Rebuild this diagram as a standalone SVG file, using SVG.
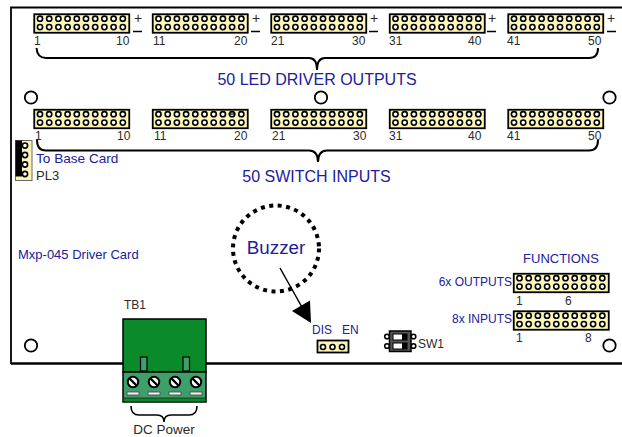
<svg xmlns="http://www.w3.org/2000/svg" xmlns:xlink="http://www.w3.org/1999/xlink" width="622" height="437" viewBox="0 0 622 437">
<style>
text{font-family:"Liberation Sans",Arial,sans-serif}
.b{fill:#20209a}.k{fill:#2a2a2a}
.s12{font-size:12px}.s13{font-size:13px}.s16{font-size:16px}
.line{fill:none;stroke:#000}
.hole{fill:#fff;stroke:#000;stroke-width:1.8}
.pin{fill:#fff;stroke:#000;stroke-width:1.6}
.scr{fill:#3f9f6a;stroke:#000;stroke-width:1.2}
</style>
<defs>
<g id="r"><circle class="pin" cx="6.5" cy="5.2" r="2.6"/><circle class="pin" cx="15.7" cy="5.2" r="2.6"/><circle class="pin" cx="24.9" cy="5.2" r="2.6"/><circle class="pin" cx="34.1" cy="5.2" r="2.6"/><circle class="pin" cx="43.3" cy="5.2" r="2.6"/><circle class="pin" cx="52.5" cy="5.2" r="2.6"/><circle class="pin" cx="61.7" cy="5.2" r="2.6"/><circle class="pin" cx="70.9" cy="5.2" r="2.6"/><circle class="pin" cx="80.1" cy="5.2" r="2.6"/><circle class="pin" cx="89.3" cy="5.2" r="2.6"/></g>
<g id="hdr">
<rect x="0.75" y="0.75" width="95" height="18.5" fill="#fdf5b5" stroke="#000" stroke-width="1.8"/>
<use xlink:href="#r" href="#r"/>
<use xlink:href="#r" href="#r" y="8.4"/>
</g>
</defs>
<g id="connectors" class="line">
<path d="M11 364V7.5H622" stroke-width="1.8"/>
<path d="M11 363.500H622" stroke-width="2.600"/>
<path d="M36.500 48C37 55 40 58 46 58H309C314 58 317 61 317 70C317 61 320 58 325 58H589C595 58 598 55 598 48" stroke-width="2"/>
<path d="M37 140C37 147 40 150.500 46 150.500H309C314 150.500 318 153 318 162C318 153 322 150.500 327 150.500H589C595 150.500 598 147 598 140" stroke-width="2"/>
<path d="M131 406C131 412 134 415 139 415H157C162 415 164 417 164 422C164 417 166 415 171 415H189C194 415 197 412 197 406" stroke-width="1.6"/>
<path d="M280 268L303 309" stroke-width="1.5"/>
<path d="M311 323L292 311L310 300.500Z" fill="#000" stroke="none"/>
</g>
<g id="headers-top">
<use xlink:href="#hdr" href="#hdr" x="33.500" y="13.500"/><use xlink:href="#hdr" href="#hdr" x="152" y="13.500"/><use xlink:href="#hdr" href="#hdr" x="270.500" y="13.500"/><use xlink:href="#hdr" href="#hdr" x="389" y="13.500"/><use xlink:href="#hdr" href="#hdr" x="507.500" y="13.500"/>
</g>
<g id="headers-mid">
<use xlink:href="#hdr" href="#hdr" x="33.500" y="109"/><use xlink:href="#hdr" href="#hdr" x="152" y="109"/><use xlink:href="#hdr" href="#hdr" x="270.500" y="109"/><use xlink:href="#hdr" href="#hdr" x="389" y="109"/><use xlink:href="#hdr" href="#hdr" x="507.500" y="109"/>
<path d="M228.500 114h7" stroke="#000" stroke-width="1.200"/>
</g>
<g id="headers-func">
<use xlink:href="#hdr" href="#hdr" x="513" y="273"/><use xlink:href="#hdr" href="#hdr" x="513" y="310.500"/>
</g>
<g id="holes"><circle class="hole" cx="31" cy="97.500" r="6.200"/><circle class="hole" cx="321" cy="97.500" r="6.200"/><circle class="hole" cx="609.500" cy="97.500" r="6.200"/><circle class="hole" cx="31" cy="345.500" r="6.200"/><circle class="hole" cx="609.500" cy="345.500" r="6.200"/></g>
<g id="top-labels" class="k s12">
<text x="34" y="45">1</text><text x="116" y="45">10</text><text x="153" y="45">11</text><text x="234" y="45">20</text><text x="271" y="45">21</text><text x="352" y="45">30</text><text x="389" y="45">31</text><text x="468" y="45">40</text><text x="507" y="45">41</text><text x="588" y="45">50</text>
<g style="font-size:14px"><text x="134" y="23">+</text><text x="252" y="23">+</text><text x="370" y="23">+</text><text x="488" y="23">+</text><text x="607" y="23">+</text></g>
<path d="M133 31.500h9M251 31.500h9M369 31.500h9M487 31.500h9M607 31.500h9" stroke="#000" stroke-width="1.300" fill="none"/>
<text x="35" y="140">1</text><text x="117" y="140">10</text><text x="154" y="140">11</text><text x="234" y="140">20</text><text x="272" y="140">21</text><text x="353" y="140">30</text><text x="389" y="140">31</text><text x="468" y="140">40</text><text x="507" y="140">41</text><text x="588" y="140">50</text>
</g>
<text class="b s16" x="317" y="85" text-anchor="middle">50 LED DRIVER OUTPUTS</text>
<text class="b s16" x="316.500" y="182" text-anchor="middle">50 SWITCH INPUTS</text>
<g id="PL3"><rect x="15.500" y="140.500" width="16.500" height="40" fill="#fdf5b5" stroke="#666" stroke-width="1"/><rect x="15.500" y="140.500" width="6.500" height="36" fill="#000"/><circle class="pin" cx="25" cy="145.600" r="2.600"/><circle class="pin" cx="25" cy="155" r="2.600"/><circle class="pin" cx="25" cy="164.500" r="2.600"/><circle class="pin" cx="25" cy="174" r="2.600"/></g>
<text class="b" style="font-size:13.600px" x="36" y="163">To Base Card</text>
<text class="k s13" x="36" y="180">PL3</text>
<text class="b s13" x="18" y="259">Mxp-045 Driver Card</text>
<g id="buzzer"><circle cx="276" cy="248.500" r="43" fill="none" stroke="#000" stroke-width="4" stroke-dasharray="4 4.500"/><text class="b" style="font-size:18.800px" x="276" y="254" text-anchor="middle">Buzzer</text></g>
<g id="dis-en"><text class="b s12" x="312" y="334">DIS</text><text class="b s12" x="342" y="334">EN</text><rect x="317.500" y="340.500" width="31" height="12" fill="#fdf5b5" stroke="#000" stroke-width="1.800"/><circle class="pin" cx="323" cy="347" r="2.500"/><circle class="pin" cx="332.500" cy="347" r="2.500"/><circle class="pin" cx="342" cy="347" r="2.500"/></g>
<g id="SW1"><rect x="389.500" y="331" width="21.500" height="20.500" fill="#555" stroke="#000" stroke-width="1.500"/><rect x="393" y="334" width="14" height="6" fill="#000" stroke="#000"/><rect x="393.500" y="334.500" width="8.500" height="5" fill="#fff"/><rect x="393" y="343" width="14" height="6" fill="#000" stroke="#000"/><rect x="393.500" y="343.500" width="8.500" height="5" fill="#fff"/><circle class="pin" cx="387" cy="336.500" r="2.300"/><circle class="pin" cx="387" cy="346" r="2.300"/><circle class="pin" cx="413.500" cy="336.500" r="2.300"/><circle class="pin" cx="413.500" cy="346" r="2.300"/><text class="k s12" x="418" y="348">SW1</text></g>
<g id="functions"><text class="b s13" x="561" y="263" text-anchor="middle">FUNCTIONS</text><text class="b s12" x="512" y="286" text-anchor="end">6x OUTPUTS</text><text class="b s12" x="512" y="323" text-anchor="end">8x INPUTS</text><text class="k s12" x="516" y="305">1</text><text class="k s12" x="565" y="305">6</text><text class="k s12" x="516" y="342">1</text><text class="k s12" x="585" y="342">8</text></g>
<g id="TB1"><text class="k s12" x="124" y="309">TB1</text>
<rect x="123" y="319" width="83" height="53" fill="#0a8a2a" stroke="#000" stroke-width="1.500"/>
<rect x="123" y="372" width="83" height="30" fill="#3f9f6a" stroke="#000" stroke-width="1.500"/>
<rect x="123.800" y="398" width="81.400" height="3.400" fill="#0a8a2a"/>
<path d="M123 398H206" stroke="#222" stroke-width="0.800"/>
<rect class="scr" x="140.500" y="357" width="6.500" height="14"/><rect class="scr" x="183" y="357" width="6.500" height="14"/>
<g fill="#fff" stroke="#000" stroke-width="2"><circle cx="133" cy="382" r="5.200"/><circle cx="154" cy="382" r="5.200"/><circle cx="175" cy="382" r="5.200"/><circle cx="196" cy="382" r="5.200"/></g>
<path d="M129.500 378.500l7 7M150.500 378.500l7 7M171.500 378.500l7 7M192.500 378.500l7 7" stroke="#000" stroke-width="2.400"/>
<g fill="#eee" stroke="#444" stroke-width="0.800"><rect x="127" y="392" width="12" height="3"/><rect x="148" y="392" width="12" height="3"/><rect x="169" y="392" width="12" height="3"/><rect x="190" y="392" width="12" height="3"/></g></g>
<text class="k" style="font-size:13.500px" x="164" y="434" text-anchor="middle">DC Power</text>
</svg>
